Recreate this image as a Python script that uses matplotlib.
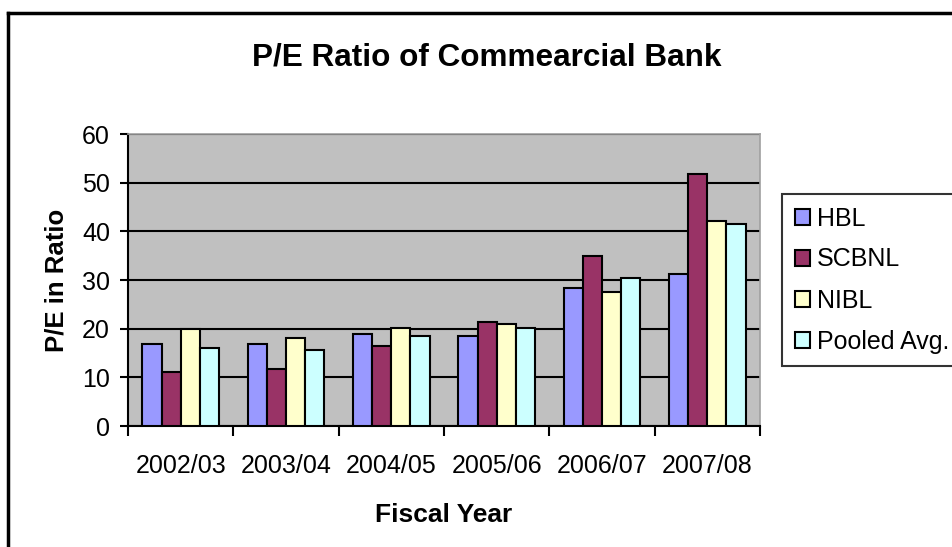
import matplotlib
matplotlib.use("Agg")
import matplotlib.pyplot as plt
import matplotlib.lines as mlines
import numpy as np

plt.rcParams['font.family'] = ['Liberation Sans', 'DejaVu Sans']

years = ["2002/03", "2003/04", "2004/05", "2005/06", "2006/07", "2007/08"]
banks = ["HBL", "SCBNL", "NIBL", "Pooled Avg."]
hbl = [16.9, 16.9, 18.9, 18.4, 28.4, 31.3]
scbnl = [11.0, 11.8, 16.4, 21.3, 35.0, 51.7]
nibl = [20.0, 18.0, 20.1, 20.9, 27.5, 42.1]
pooled = [16.0, 15.6, 18.4, 20.1, 30.5, 41.6]
colors = ["#9999FF", "#993366", "#FFFFCC", "#CCFFFF"]

fig = plt.figure(figsize=(9.52, 5.47), dpi=100)
ax = fig.add_axes([128 / 952, 1 - 426 / 547, 632 / 952, 292 / 547])
ax.set_facecolor("#C0C0C0")

x = np.arange(len(years))
w = 1 / 5.5
for i, (vals, name) in enumerate(zip([hbl, scbnl, nibl, pooled], banks)):
    ax.bar(x + (i - 1.5) * w, vals, w, color=colors[i], edgecolor="black",
           linewidth=1.5, label=name, zorder=3)

ax.set_xlim(-0.5, len(years) - 0.5)
ax.set_ylim(0, 60)
ax.set_yticks(range(0, 61, 10))
ax.yaxis.grid(True, color="black", linewidth=1.5, zorder=1)
ax.set_axisbelow(True)

ax.set_xticks(x)
ax.set_xticklabels(years)
ax.set_xticks(np.arange(-0.5, len(years)), minor=True)
ax.tick_params(axis="x", which="major", length=0, labelsize=18, pad=20)
ax.tick_params(axis="x", which="minor", length=7, width=1.5, direction="out")
ax.tick_params(axis="y", length=6, width=1.5, labelsize=18, pad=7)

for side in ["top", "right"]:
    ax.spines[side].set_color("#A0A0A0")
    ax.spines[side].set_linewidth(1.2)
for side in ["left", "bottom"]:
    ax.spines[side].set_linewidth(1.5)

ax.set_xlabel("Fiscal Year", fontsize=19, fontweight="bold", labelpad=18)
ax.set_ylabel("P/E in Ratio", fontsize=18.5, fontweight="bold", labelpad=10)
fig.text(486.5 / 952, 1 - 57 / 547, "P/E Ratio of Commearcial Bank",
         ha="center", va="center", fontsize=22.7, fontweight="bold")

leg = fig.legend(loc="upper left", bbox_to_anchor=(782 / 952, 1 - 194 / 547),
                 fontsize=18, frameon=True, fancybox=False, edgecolor="black",
                 handlelength=0.6, handleheight=0.6, handletextpad=0.3,
                 labelspacing=0.68, borderpad=0.5, borderaxespad=0)
leg.get_frame().set_linewidth(1.5)

# outer chart border (top and left edges)
fig.add_artist(mlines.Line2D([8 / 952, 1], [1 - 13 / 547, 1 - 13 / 547],
                             color="black", linewidth=2.5))
fig.add_artist(mlines.Line2D([8 / 952, 8 / 952], [0, 1 - 13 / 547],
                             color="black", linewidth=2.5))

fig.savefig("out.png", dpi=100)
